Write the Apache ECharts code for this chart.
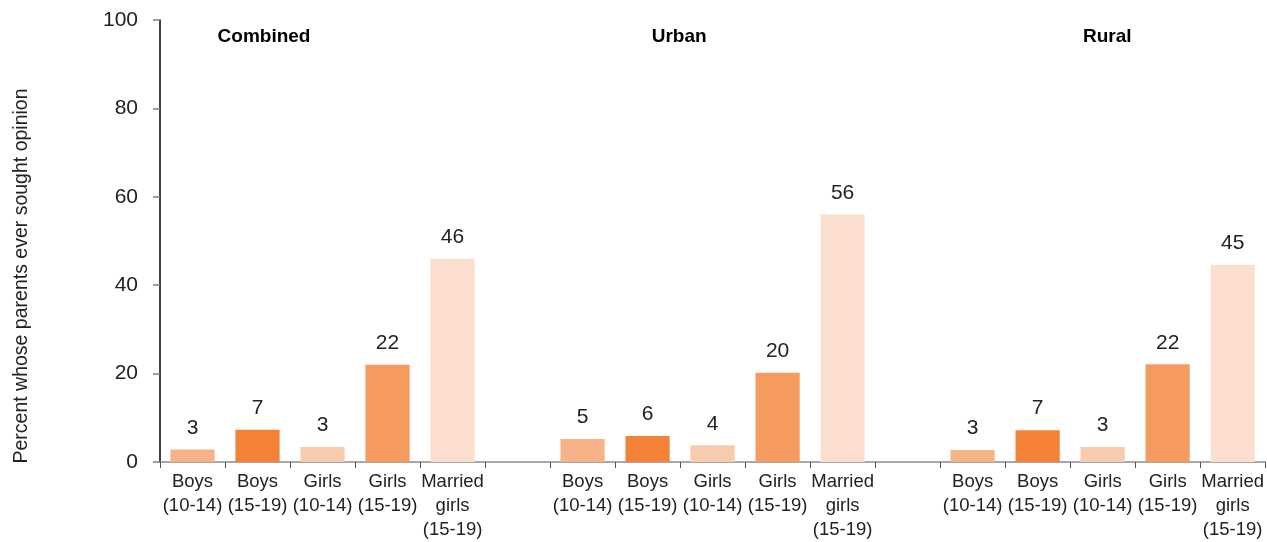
<!DOCTYPE html>
<html>
<head>
<meta charset="utf-8">
<script src="https://cdn.jsdelivr.net/npm/echarts@6/dist/echarts.min.js"></script>
<style>
html,body{margin:0;padding:0;background:#fff;}
#chart{width:1267px;height:542px;}
</style>
</head>
<body>
<div id="chart"></div>
<script>
// ---- data ----
var groups = ['Combined', 'Urban', 'Rural'];
var subCategories = ['Boys\n(10-14)', 'Boys\n(15-19)', 'Girls\n(10-14)', 'Girls\n(15-19)', 'Married\ngirls\n(15-19)'];
var combined = [2.8, 7.3, 3.4, 22.0, 46.0];
var urban = [5.2, 5.9, 3.8, 20.2, 56.0];
var rural = [2.7, 7.2, 3.4, 22.1, 44.6];
var subColors = ['#F7B387', '#F38136', '#F9CBAD', '#F69B5F', '#FBDECE'];
var yTicks = [0, 20, 40, 60, 80, 100];
var yTitle = 'Percent whose parents ever sought opinion';

// ---- build category axis with gap categories between groups ----
var groupValues = [combined, urban, rural];
var categories = [];
var barData = [];
var groupCenters = [];
groupValues.forEach(function (vals, gi) {
  if (gi > 0) { categories.push(' '); barData.push('-'); }
  var start = categories.length;
  vals.forEach(function (v, i) {
    categories.push(subCategories[i]);
    barData.push({ value: v, itemStyle: { color: subColors[i] } });
  });
  groupCenters.push(start + 2);
});

var chart = echarts.init(document.getElementById('chart'));
var option = {
  animation: false,
  backgroundColor: '#ffffff',
  textStyle: { fontFamily: 'Liberation Sans, Arial, sans-serif' },
  grid: { left: 160, right: 1, top: 20, bottom: 79, containLabel: false },
  xAxis: {
    type: 'category',
    data: categories,
    axisLine: { lineStyle: { color: '#8a8a8a', width: 1.5 } },
    axisTick: { show: true, length: 6, lineStyle: { color: '#555555' } },
    axisLabel: {
      interval: 0,
      color: '#222222',
      fontSize: 18.5,
      lineHeight: 24,
      margin: 8
    }
  },
  yAxis: {
    type: 'value',
    min: 0,
    max: 100,
    interval: 20,
    axisLine: { show: true, lineStyle: { color: '#000000', width: 1.5 } },
    axisTick: { show: true, length: 7, lineStyle: { color: '#808080', width: 1.5 } },
    axisLabel: { fontSize: 21, color: '#222222', margin: 22 },
    splitLine: { show: false }
  },
  series: [{
    type: 'bar',
    data: barData,
    barCategoryGap: '32%',
    label: {
      show: true,
      position: 'top',
      distance: 11,
      fontSize: 21,
      color: '#222222',
      formatter: function (p) { return Math.round(p.value); }
    }
  }]
};
chart.setOption(option);

// group titles, placed via the category axis scale (offset in category widths)
var titleOffsets = [-0.9, -0.515, 0.07];
var band = chart.convertToPixel({ xAxisIndex: 0 }, 1) - chart.convertToPixel({ xAxisIndex: 0 }, 0);
var gfx = groups.map(function (g, gi) {
  var px = chart.convertToPixel({ xAxisIndex: 0 }, groupCenters[gi]) + titleOffsets[gi] * band;
  return {
    type: 'text',
    x: px,
    y: 37,
    style: {
      text: g,
      font: 'bold 19px Liberation Sans, Arial, sans-serif',
      fill: '#000000',
      align: 'center',
      verticalAlign: 'middle'
    }
  };
});
gfx.push({
  type: 'text',
  x: 22,
  y: 276,
  rotation: Math.PI / 2,
  style: {
    text: yTitle,
    font: '19.5px Liberation Sans, Arial, sans-serif',
    fill: '#222222',
    align: 'center',
    verticalAlign: 'middle'
  }
});
chart.setOption({ graphic: gfx });
</script>
</body>
</html>
